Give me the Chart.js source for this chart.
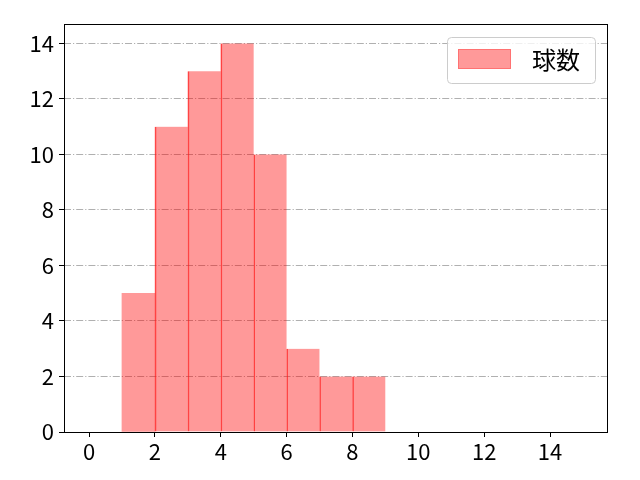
<!DOCTYPE html>
<html>
<head>
<meta charset="utf-8">
<script src="https://cdn.jsdelivr.net/npm/chart.js@4.4.0/dist/chart.umd.min.js"></script>
<style>
html,body{margin:0;padding:0;background:#fff;}
#wrap{width:640px;height:480px;}
</style>
</head>
<body>
<div id="wrap"><canvas id="c" width="640" height="480"></canvas></div>
<script>
// Data
const binStarts = [1, 2, 3, 4, 5, 6, 7, 8];
const counts = [5, 11, 13, 14, 10, 3, 2, 2];
const seriesLabel = '球数';
const xTicks = [0, 2, 4, 6, 8, 10, 12, 14];
const yTicks = [0, 2, 4, 6, 8, 10, 12, 14];

const FONT = '"Noto Sans CJK JP", "DejaVu Sans", sans-serif';

const points = binStarts.map((s, i) => ({ x: s + 0.5, y: counts[i] }));

const frameAndLegend = {
  id: 'frameAndLegend',
  afterDatasetsDraw(chart) {
    const { ctx, chartArea: a } = chart;
    ctx.save();
    ctx.strokeStyle = '#000';
    ctx.lineWidth = 1;
    ctx.strokeRect(Math.round(a.left) + 0.5, Math.round(a.top) + 0.5,
      Math.round(a.right - a.left) - 1, Math.round(a.bottom - a.top));
    // legend
    const lx = 447.5, ly = 37.5, lw = 148, lh = 46, r = 4;
    ctx.beginPath();
    ctx.moveTo(lx + r, ly);
    ctx.arcTo(lx + lw, ly, lx + lw, ly + lh, r);
    ctx.arcTo(lx + lw, ly + lh, lx, ly + lh, r);
    ctx.arcTo(lx, ly + lh, lx, ly, r);
    ctx.arcTo(lx, ly, lx + lw, ly, r);
    ctx.closePath();
    ctx.fillStyle = 'rgba(255,255,255,0.8)';
    ctx.fill();
    ctx.strokeStyle = '#cccccc';
    ctx.stroke();
    ctx.fillStyle = 'rgba(255,0,0,0.4)';
    ctx.fillRect(458, 49, 53, 20);
    ctx.strokeStyle = 'rgba(255,0,0,0.25)';
    ctx.strokeRect(458.5, 49.5, 52, 19);
    ctx.fillStyle = '#000';
    ctx.font = '24px ' + FONT;
    ctx.textBaseline = 'middle';
    ctx.textAlign = 'left';
    ctx.fillText(seriesLabel, 532, 60);
    ctx.restore();
  }
};

new Chart(document.getElementById('c'), {
  type: 'bar',
  data: {
    datasets: [{
      label: seriesLabel,
      data: points,
      backgroundColor: 'rgba(255,0,0,0.4)',
      borderColor: 'rgba(255,30,30,0.75)',
      borderWidth: (c) => ({ left: c.dataIndex > 0 ? 1 : 0, top: 0, right: 0, bottom: 0 }),
      borderSkipped: false,
      barPercentage: 1,
      categoryPercentage: 1,
      grouped: false
    }]
  },
  options: {
    responsive: false,
    animation: false,
    devicePixelRatio: 1,
    layout: { padding: { left: 0, right: 32, top: 24, bottom: 0 } },
    plugins: { legend: { display: false }, tooltip: { enabled: false } },
    scales: {
      x: {
        type: 'linear',
        min: -0.76,
        max: 15.76,
        offset: false,
        afterBuildTicks: (s) => { s.ticks = xTicks.map(v => ({ value: v })); },
        afterFit: (s) => { s.height = 48; },
        grid: { display: true, offset: false, drawOnChartArea: false, drawTicks: true, tickLength: 5, tickColor: '#000', tickWidth: 1 },
        border: { display: false },
        ticks: { color: '#000', font: { family: FONT, size: 22 }, padding: 1, maxRotation: 0, autoSkip: false }
      },
      y: {
        type: 'linear',
        min: 0,
        max: 14.7,
        afterBuildTicks: (s) => { s.ticks = yTicks.map(v => ({ value: v })); },
        afterFit: (s) => { s.width = 64; },
        grid: { display: true, offset: false, color: '#b0b0b0', lineWidth: 1, drawTicks: true, tickLength: 5, tickColor: '#000', tickWidth: 1, tickBorderDash: [] },
        border: { display: false, dash: [7, 2, 1.2, 2] },
        ticks: { color: '#000', font: { family: FONT, size: 22 }, padding: 5, autoSkip: false }
      }
    }
  },
  plugins: [frameAndLegend]
});
</script>
</body>
</html>
